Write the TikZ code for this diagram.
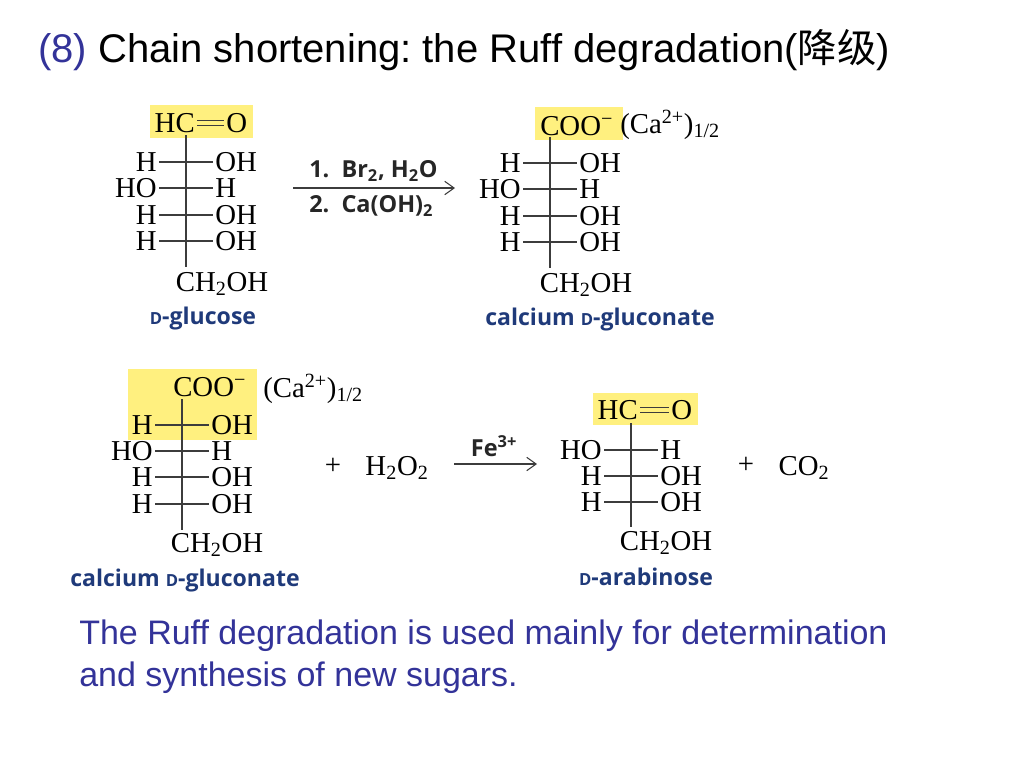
\documentclass[tikz,border=0pt]{standalone}
\usepackage{fontspec}
\setmainfont{Liberation Serif}
\newfontfamily\arialf{Liberation Sans}
\newfontfamily\labelf{Open Sans}[BoldFont={Open Sans Bold}]
\newfontfamily\cjkf{Noto Sans CJK SC}
\usetikzlibrary{arrows.meta}
\definecolor{slideblue}{HTML}{333399}
\definecolor{navy}{HTML}{1F3A7A}
\definecolor{hilite}{HTML}{FFF07F}
\definecolor{bondgray}{HTML}{3C3C3C}
\newcommand{\sizept}[1]{\fontsize{#1}{#1}\selectfont}
\newcommand{\frow}[5]{%
  \node[chem,anchor=east] (#1L) at ({#2-27},#3) {#4};
  \node[chem,anchor=west] (#1R) at ({#2+27},#3) {#5};
  \draw[bond] (#1L) -- (#1R);
}
\tikzset{
  x=0.75pt,y=-0.75pt,
  chem/.style={inner sep=1.5pt,font=\sizept{21.6},text=black},
  bond/.style={bondgray,line width=0.9pt},
  caption/.style={inner sep=0pt,font=\labelf\bfseries\sizept{17.3},text=navy},
  reagent/.style={inner sep=0pt,font=\labelf\bfseries\sizept{17.6},text=black!85},
  slidetext/.style={inner sep=0pt,anchor=base west,font=\arialf\sizept{25.5},text=slideblue},
  rxnarrow/.style={bondgray,line width=1pt,-{Straight Barb[length=7pt,width=10pt,line width=0.8pt]}}
}
\newcommand{\CHOH}{CH\textsubscript{2}OH}
\begin{document}
\begin{tikzpicture}
\frenchspacing
\useasboundingbox (0,0) rectangle (1024,768);
\fill[white] (0,0) rectangle (1024,768);
% title
\node[slidetext,font=\arialf\sizept{30}] (title) at (38,62) {(8) \textcolor{black}{Chain shortening: the Ruff degradation({\cjkf\sizept{29.5}降级})}};
% highlights
\fill[hilite] (150,105) rectangle (253,138);
\fill[hilite] (535,107) rectangle (623,140);
\fill[hilite] (128,369) rectangle (257,440);
\fill[hilite] (593,393) rectangle (698,425);

% D-glucose
\node[chem,anchor=east] (aHC) at (197,123) {HC};
\node[chem,anchor=west] (aO) at (224,123) {O};
\draw[bond] ([yshift=-1.9pt]aHC.east) -- ([yshift=-1.9pt]aO.west);
\draw[bond] ([yshift=1.9pt]aHC.east) -- ([yshift=1.9pt]aO.west);
\frow{a1}{186}{162}{H}{OH}
\frow{a2}{186}{188}{HO}{H}
\frow{a3}{186}{215}{H}{OH}
\frow{a4}{186}{241}{H}{OH}
\node[chem] (aC) at (222,284) {\CHOH};
\coordinate (aTop) at (186,135);
\coordinate (aBot) at (186,267);
\draw[bond] (aTop) -- (aBot);
\node[caption] (aName) at (203,319) {{\sizept{12.5}D}-glucose};

% reaction 1
\coordinate (r1a) at (293,188);
\coordinate (r1b) at (455,188);
\draw[rxnarrow] (r1a) -- (r1b);
\node[reagent,anchor=west] (r1t) at (309,171) {1.\ \ Br\textsubscript{2}, H\textsubscript{2}O};
\node[reagent,anchor=west] (r1u) at (309,206) {2.\ \ Ca(OH)\textsubscript{2}};

% gluconate top
\node[chem,anchor=west] (bC) at (538,126) {COO\textsuperscript{−}};
\node[chem,anchor=west] (bCa) at (618,125) {(Ca\textsuperscript{2+})\textsubscript{1/2}};
\frow{b1}{550}{163}{H}{OH}
\frow{b2}{550}{189}{HO}{H}
\frow{b3}{550}{216}{H}{OH}
\frow{b4}{550}{242}{H}{OH}
\node[chem] (bD) at (586,285) {\CHOH};
\coordinate (bTop) at (550,137);
\coordinate (bBot) at (550,268);
\draw[bond] (bTop) -- (bBot);
\node[caption] (bName) at (600,320) {calcium {\sizept{12.5}D}-gluconate};

% gluconate bottom
\node[chem,anchor=west] (cC) at (171,387) {COO\textsuperscript{−}};
\node[chem,anchor=west] (cCa) at (261,389) {(Ca\textsuperscript{2+})\textsubscript{1/2}};
\frow{c1}{182}{425}{H}{OH}
\frow{c2}{182}{451}{HO}{H}
\frow{c3}{182}{477}{H}{OH}
\frow{c4}{182}{504}{H}{OH}
\node[chem] (cD) at (217,545) {\CHOH};
\coordinate (cTop) at (182,399);
\coordinate (cBot) at (182,530);
\draw[bond] (cTop) -- (cBot);
\node[caption] (cName) at (185,580) {calcium {\sizept{12.5}D}-gluconate};

\node[chem] (plusa) at (333,466) {+};
\node[chem] (hperox) at (397,468) {H\textsubscript{2}O\textsubscript{2}};

% reaction 2
\coordinate (r2a) at (454,464);
\coordinate (r2b) at (537,464);
\draw[rxnarrow] (r2a) -- (r2b);
\node[reagent] (fe) at (494,446) {Fe\textsuperscript{3+}};

% arabinose
\node[chem,anchor=east] (dHC) at (640,410) {HC};
\node[chem,anchor=west] (dO) at (669,410) {O};
\draw[bond] ([yshift=-1.9pt]dHC.east) -- ([yshift=-1.9pt]dO.west);
\draw[bond] ([yshift=1.9pt]dHC.east) -- ([yshift=1.9pt]dO.west);
\frow{d1}{631}{450}{HO}{H}
\frow{d2}{631}{476}{H}{OH}
\frow{d3}{631}{502}{H}{OH}
\node[chem] (dC) at (666,543) {\CHOH};
\coordinate (dTop) at (631,423);
\coordinate (dBot) at (631,527);
\draw[bond] (dTop) -- (dBot);
\node[caption] (dName) at (646,577) {{\sizept{12.5}D}-arabinose};

\node[chem] (plusb) at (746,465) {+};
\node[chem] (cotwo) at (804,468) {CO\textsubscript{2}};

% body text
\node[slidetext] (body1) at (79,644) {The Ruff degradation is used mainly for determination};
\node[slidetext] (body2) at (79,686) {and synthesis of new sugars.};
\end{tikzpicture}
\end{document}
